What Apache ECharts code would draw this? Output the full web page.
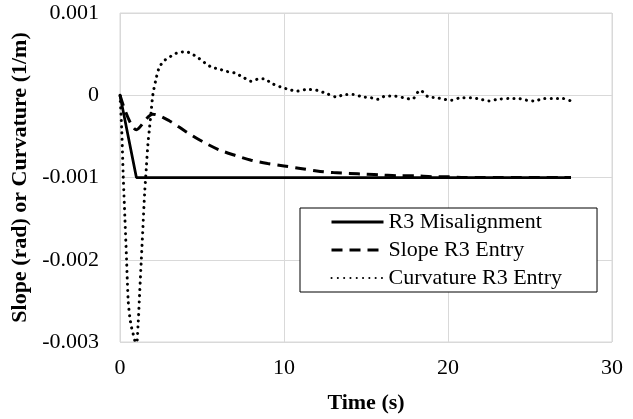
<!DOCTYPE html>
<html><head><meta charset="utf-8">
<script src="https://cdn.jsdelivr.net/npm/echarts@6/dist/echarts.min.js"></script>
<style>html,body{margin:0;padding:0;background:#fff}#c{width:633px;height:419px}</style>
</head><body><div id="c"></div>
<script>
const timeA = [0,1,2,3,4,5,6,7,8,9,10,11,12,13,14,15,16,17,18,19,20,21,22,23,24,25,26,27,27.5];
const misalignment = [0,-0.001,-0.001,-0.001,-0.001,-0.001,-0.001,-0.001,-0.001,-0.001,-0.001,-0.001,-0.001,-0.001,-0.001,-0.001,-0.001,-0.001,-0.001,-0.001,-0.001,-0.001,-0.001,-0.001,-0.001,-0.001,-0.001,-0.001,-0.001];
const slopeEntry = [0,-0.00042,-0.00023,-0.00031,-0.00044,-0.00056,-0.00066,-0.00073,-0.00079,-0.00083,-0.00086,-0.00089,-0.00092,-0.00094,-0.00095,-0.00096,-0.00097,-0.00098,-0.00098,-0.00099,-0.00099,-0.001,-0.001,-0.001,-0.001,-0.001,-0.001,-0.001,-0.001];
const curvTime = [0,0.1,0.2,0.3,0.4,0.5,0.6,0.7,0.8,0.9,1.0,1.1,1.2,1.3,1.4,1.5,1.6,1.7,1.8,1.9,2.0,2.2,2.4,2.7,3.0,3.3,3.6,4.0,4.4,4.8,5.2,5.6,6.0,6.5,7.0,7.5,8.0,8.5,8.8,9.2,9.8,10.3,10.8,11.4,12.0,12.6,13.2,13.7,14.2,14.8,15.3,15.7,16.2,16.7,17.3,17.8,18.3,18.8,19.3,19.8,20.2,20.8,21.4,22.0,22.5,23.0,23.8,24.3,24.8,25.3,25.8,26.4,27.0,27.5];
const curvEntry = [0,-0.0004,-0.001,-0.0015,-0.002,-0.0025,-0.0027,-0.00282,-0.0029,-0.00298,-0.00305,-0.0028,-0.0024,-0.002,-0.0016,-0.0012,-0.0009,-0.0006,-0.0004,-0.0002,0,0.0002,0.00034,0.00042,0.00046,0.0005,0.00052,0.00053,0.0005,0.00045,0.00039,0.00034,0.00032,0.00029,0.00027,0.00022,0.00017,0.0002,0.0002,0.00015,0.0001,0.00007,0.00005,0.00007,0.00006,0.00002,-0.00002,0.00001,0.00001,-0.00002,-0.00003,-0.00005,-0.00001,-0.00001,-0.00003,-0.00005,0.00006,-0.00002,-0.00003,-0.00005,-0.00006,-0.00003,-0.00003,-0.00005,-0.00007,-0.00005,-0.00004,-0.00004,-0.00006,-0.00007,-0.00004,-0.00004,-0.00004,-0.00007];
const seriesNames = ['R3 Misalignment','Slope R3 Entry','Curvature R3 Entry'];
const xTitle = 'Time (s)';
const yTitle = 'Slope (rad) or Curvature (1/m)';

const zip = (a,b)=>a.map((t,i)=>[t,b[i]]);
const font = 'Liberation Serif';
const chart = echarts.init(document.getElementById('c'), null, {renderer:'canvas'});
chart.setOption({
  animation:false,
  backgroundColor:'#fff',
  grid:{left:120,right:21,top:13,bottom:76,show:true,borderColor:'#d9d9d9',borderWidth:1,backgroundColor:'transparent'},
  xAxis:{type:'value',min:0,max:30,interval:10,
    name:xTitle,nameLocation:'middle',nameGap:50,
    nameTextStyle:{fontFamily:font,fontSize:22,fontWeight:'bold',color:'#000',verticalAlign:'top'},
    axisLine:{show:false},axisTick:{show:false},
    axisLabel:{fontFamily:font,fontSize:22,color:'#000',margin:15},
    splitLine:{show:true,lineStyle:{color:'#d9d9d9',width:1}}},
  yAxis:{type:'value',min:-0.003,max:0.001,interval:0.001,
    name:yTitle,nameLocation:'middle',nameGap:89,nameRotate:90,
    nameTextStyle:{fontFamily:font,fontSize:22,fontWeight:'bold',color:'#000'},
    axisLine:{show:false},axisTick:{show:false},
    axisLabel:{fontFamily:font,fontSize:22,color:'#000',margin:21,
      formatter:v=>{const r=parseFloat(v.toFixed(4));return r===0?'0':String(r);}},
    splitLine:{show:true,lineStyle:{color:'#d9d9d9',width:1}}},
  legend:{orient:'vertical',left:300,top:208,
    backgroundColor:'#fff',borderColor:'#000',borderWidth:1,
    padding:[0,35,0,30],itemGap:0,itemWidth:52,itemHeight:14,itemTextGap:6,
    itemStyle:{opacity:0},
    textStyle:{fontFamily:font,fontSize:22,color:'#000',lineHeight:28},
    data:[
      {name:seriesNames[0],lineStyle:{width:3}},
      {name:seriesNames[1],lineStyle:{width:3}},
      {name:seriesNames[2],lineStyle:{width:2}}
    ]},
  series:[
    {name:seriesNames[0],type:'line',data:zip(timeA,misalignment),showSymbol:false,symbol:'none',
      lineStyle:{color:'#000',width:2.75,type:'solid'},itemStyle:{color:'#000'}},
    {name:seriesNames[1],type:'line',data:zip(timeA,slopeEntry),showSymbol:false,symbol:'none',smooth:0.3,
      lineStyle:{color:'#000',width:3,type:[11,7]},itemStyle:{color:'#000'}},
    {name:seriesNames[2],type:'line',data:zip(curvTime,curvEntry),showSymbol:false,symbol:'none',smooth:0.3,
      lineStyle:{color:'#000',width:3,type:[0.1,6.2],cap:'round'},itemStyle:{color:'#000'}}
  ]
});
</script></body></html>
